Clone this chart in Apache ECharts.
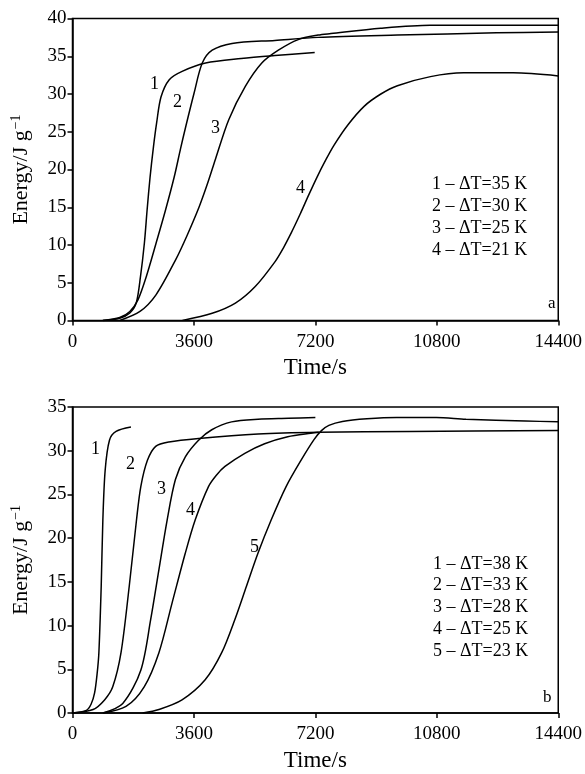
<!DOCTYPE html>
<html>
<head>
<meta charset="utf-8">
<script src="https://cdn.jsdelivr.net/npm/echarts@6/dist/echarts.min.js"></script>
<style>
  html, body { margin: 0; padding: 0; background: #fff; }
  #chart { width: 585px; height: 774px; }
</style>
</head>
<body>
<div id="chart"></div>
<script>
// time in s, energy in J/g
var xTicks = [0, 3600, 7200, 10800, 14400];

// panel a
var curveA1 = [[900,0],[1400,0.3],[1700,1],[1888,2.3],[2015,5.8],[2132,10.3],[2211,14.6],[2300,19],[2400,23],[2495,26.2],[2623,29.6],[2868,31.9],[3250,33],[3947,34.1],[5000,34.7],[6000,35.1],[7180,35.5]];
var curveA2 = [[900,0],[1400,0.4],[1700,1.2],[1936,2.7],[2200,6],[2475,10.2],[2750,14.5],[3015,19],[3200,22.7],[3358,25.7],[3603,30.1],[3847,34.1],[4141,35.8],[4730,36.7],[6000,37.1],[7280,37.5],[9632,37.8],[12574,38.1],[14400,38.2]];
var curveA3 = [[1400,0],[2000,1.2],[2475,3.4],[3064,8.1],[3400,11.3],[3750,15.0],[4000,18.1],[4240,21.4],[4632,26.6],[5123,31],[5612,34.1],[6103,35.8],[6691,37.2],[7279,37.8],[7662,38.0],[9132,38.7],[10603,39.1],[14400,39.1]];
var curveA4 = [[3260,0],[4141,0.95],[4829,2.3],[5417,4.5],[6006,7.8],[6250,9.6],[6495,11.7],[6750,14.1],[7000,16.6],[7250,19.0],[7500,21.2],[7750,23.2],[8162,25.9],[8652,28.4],[9141,30.0],[9632,31.1],[10612,32.3],[11594,32.8],[13064,32.8],[14400,32.4]];
var legendA = ['1 – ΔT=35 K', '2 – ΔT=30 K', '3 – ΔT=25 K', '4 – ΔT=21 K'];

// panel b
var curveB1 = [[0,0],[411,0.3],[550,1],[655,2.3],[730,4.5],[782,6.9],[851,14.5],[900,22.1],[969,27.8],[1096,31.2],[1292,32.2],[1733,32.7]];
var curveB2 = [[0,0],[611,0.4],[950,1.5],[1193,3.0],[1438,6.9],[1682,14.5],[1898,22.1],[2025,25.9],[2221,28.9],[2466,30.5],[2857,31.0],[3738,31.4],[5500,31.9],[7300,32.1],[10000,32.2],[14400,32.3]];
var curveB3 = [[900,0],[1490,1.1],[2025,4.9],[2318,10.7],[2562,16.4],[2807,22.1],[3051,26.7],[3345,29.3],[3737,31.2],[4129,32.4],[4716,33.3],[5500,33.6],[6400,33.7],[7200,33.8]];
var curveB4 = [[900,0],[1586,0.75],[2125,3.0],[2562,6.9],[2953,12.6],[3345,18.3],[3639,22.1],[4031,25.9],[4265,27.2],[4520,28.2],[5108,29.7],[5695,30.8],[6380,31.6],[7065,32.0],[7300,32.1]];
var curveB5 = [[2080,0],[2562,0.4],[3247,1.5],[3933,3.8],[4423,6.9],[4814,10.7],[5157,14.5],[5500,18.3],[5892,22.1],[6332,25.9],[6773,28.9],[7164,31.3],[7380,32.3],[7600,32.9],[8000,33.35],[8729,33.65],[9610,33.8],[10785,33.8],[11666,33.6],[13428,33.4],[14400,33.3]];
var legendB = ['1 – ΔT=38 K', '2 – ΔT=33 K', '3 – ΔT=28 K', '4 – ΔT=25 K', '5 – ΔT=23 K'];

var FONT = '"Liberation Serif", "Times New Roman", serif';

function xAxisOf(idx) {
    return {
        gridIndex: idx,
        type: 'value',
        min: 0, max: 14400, interval: 3600,
        name: 'Time/s',
        nameLocation: 'middle',
        nameGap: 36,
        nameTextStyle: { fontFamily: FONT, fontSize: 23, color: '#000' },
        axisLine: { lineStyle: { color: '#000', width: 1.5 } },
        axisTick: { length: 5, lineStyle: { color: '#000', width: 1.5 } },
        axisLabel: { fontFamily: FONT, fontSize: 19, color: '#000', margin: 12,
            formatter: function (v) { return String(v); } },
        splitLine: { show: false }
    };
}
function yAxisOf(idx, max) {
    return {
        gridIndex: idx,
        type: 'value',
        min: 0, max: max, interval: 5,
        name: '{a|Energy/J g}{b|−1}',
        nameLocation: 'middle',
        nameGap: 39,
        nameRotate: 90,
        nameTextStyle: { fontFamily: FONT, fontSize: 22, color: '#000',
            rich: {
                a: { fontFamily: FONT, fontSize: 22, color: '#000' },
                b: { fontFamily: FONT, fontSize: 14, color: '#000', padding: [0, 0, 10, 1] }
            } },
        axisLine: { lineStyle: { color: '#000', width: 1.5 } },
        axisTick: { length: 5, lineStyle: { color: '#000', width: 1.5 } },
        axisLabel: { fontFamily: FONT, fontSize: 19, color: '#000', margin: 6 },
        splitLine: { show: false }
    };
}
function line(data, idx) {
    return {
        type: 'line',
        xAxisIndex: idx, yAxisIndex: idx,
        data: data,
        symbol: 'none',
        smooth: 0.3,
        lineStyle: { color: '#000', width: 1.5 },
        silent: true
    };
}
function txt(x, y, s, size) {
    return { type: 'text', left: x, top: y,
        style: { text: s, fontFamily: FONT, fontSize: size || 18, fill: '#000' } };
}

var graphics = [
    txt(150, 75, '1'), txt(173, 93, '2'), txt(211, 119, '3'), txt(296, 179, '4'),
    txt(91, 440, '1'), txt(126, 455, '2'), txt(157, 480, '3'), txt(186, 501, '4'), txt(250, 538, '5'),
    txt(548, 295, 'a', 17), txt(543, 689, 'b', 17)
];
legendA.forEach(function (s, i) { graphics.push(txt(432, 175 + i * 22, s)); });
legendB.forEach(function (s, i) { graphics.push(txt(433, 555 + i * 21.7, s)); });

var option = {
    animation: false,
    backgroundColor: '#fff',
    grid: [
        { left: 72.5, top: 18.5, width: 489.5, height: 302, show: true, borderColor: '#000', borderWidth: 1.5 },
        { left: 72.5, top: 407, width: 490, height: 306, show: true, borderColor: '#000', borderWidth: 1.5 }
    ],
    xAxis: [xAxisOf(0), xAxisOf(1)],
    yAxis: [yAxisOf(0, 40), yAxisOf(1, 35)],
    series: [
        line(curveA1, 0), line(curveA2, 0), line(curveA3, 0), line(curveA4, 0),
        line(curveB1, 1), line(curveB2, 1), line(curveB3, 1), line(curveB4, 1), line(curveB5, 1)
    ],
    graphic: graphics
};

var chart = echarts.init(document.getElementById('chart'));
chart.setOption(option);
</script>
</body>
</html>
